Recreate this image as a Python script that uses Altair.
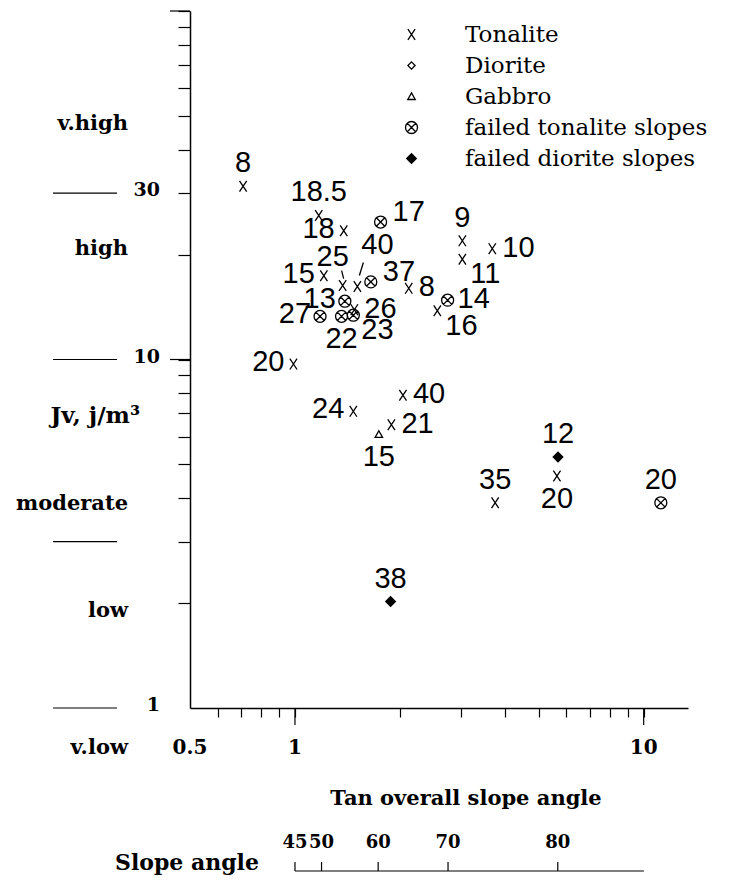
import altair as alt
import pandas as pd

# ---------------- data ----------------
tan_slope = [0.71, 1.17, 1.38, 1.76, 3.02, 3.68, 3.02, 1.21, 1.37, 1.51,
             1.65, 2.12, 1.39, 2.74, 2.56, 1.48, 1.18, 1.36, 1.47, 0.99,
             1.47, 2.04, 1.89, 1.74, 5.68, 5.64, 3.75, 11.2, 1.88]
jv = [31.4, 25.9, 23.4, 24.8, 21.9, 20.8, 19.4, 17.4, 16.3, 16.2,
      16.7, 16.0, 14.7, 14.8, 13.8, 13.9, 13.3, 13.3, 13.4, 9.7,
      7.1, 7.9, 6.5, 6.1, 5.25, 4.63, 3.88, 3.88, 2.02]
rock = ["Tonalite", "Tonalite", "Tonalite", "failed tonalite slopes", "Tonalite",
        "Tonalite", "Tonalite", "Tonalite", "Tonalite", "Tonalite",
        "failed tonalite slopes", "Tonalite", "failed tonalite slopes", "failed tonalite slopes", "Tonalite",
        "Tonalite", "failed tonalite slopes", "failed tonalite slopes", "failed tonalite slopes", "Tonalite",
        "Tonalite", "Tonalite", "Tonalite", "Gabbro", "failed diorite slopes",
        "Tonalite", "Tonalite", "failed tonalite slopes", "failed diorite slopes"]
label = ["8", "18.5", "18", "17", "9", "10", "11", "15", "25", "40",
         "37", "8", "13", "14", "16", "26", "27", "22", "23", "20",
         "24", "40", "21", "15", "12", "20", "35", "20", "38"]
place = ["above", "above", "left", "right-up", "above", "right", "right-down", "left", "lead-left", "lead-right",
         "right-up", "right", "left", "right", "right-down", "right", "left", "below", "right-down", "left",
         "left", "right", "right", "below", "above", "below", "above", "above", "above"]

rock_types = ["Tonalite", "Diorite", "Gabbro", "failed tonalite slopes", "failed diorite slopes"]

y_tick_values = [2, 3, 4, 5, 6, 7, 8, 9, 10, 20, 30, 40, 50, 60, 70, 80, 90, 100]
y_major_ticks = [10, 100]
x_tick_values = [0.6, 0.7, 0.8, 0.9, 1, 2, 3, 4, 5, 6, 7, 8, 9, 10]
x_major_ticks = [1, 10]

y_num_values = [30, 10, 1]
band_bounds = [30, 10, 3, 1]
band_names = ["v.high", "high", "moderate", "low", "v.low"]
band_label_pos = [47.4, 20.8, 3.85, 1.90, 0.77]
y_title_pos = [6.9]

x_label_values = [0.5, 1, 10]
x_label_text = ["0.5", "1", "10"]

slope_angles = [45, 50, 60, 70, 80]
slope_line_angles = [45, 84.3]

# ---------------- styling ----------------
X_PATH = "M-0.6,-0.9L0.6,0.9M-0.6,0.9L0.6,-0.9"
DIAMOND_OPEN = "M0,-0.6L0.6,0L0,0.6L-0.6,0Z"
TRI = "M0,-0.6L0.62,0.5L-0.62,0.5Z"
OTIMES = "M-1,0A1,1,0,1,0,1,0A1,1,0,1,0,-1,0ZM-0.7,-0.7L0.7,0.7M-0.7,0.7L0.7,-0.7"
DIAMOND_FILL = ("M0,-0.8L0.8,0L0,0.8L-0.8,0ZM0,-0.57L0.57,0L0,0.57L-0.57,0Z"
                "M0,-0.34L0.34,0L0,0.34L-0.34,0ZM0,-0.12L0.12,0L0,0.12L-0.12,0Z")
shape_range = [X_PATH, DIAMOND_OPEN, TRI, OTIMES, DIAMOND_FILL]

SERIF = "DejaVu Serif"
SANS = "Liberation Sans"

PLACE = {
    "above": dict(align="center", dx=0, dy=-23),
    "below": dict(align="center", dx=0, dy=23),
    "left": dict(align="right", dx=-9, dy=-2),
    "right": dict(align="left", dx=10, dy=-1),
    "right-up": dict(align="left", dx=12, dy=-10),
    "right-down": dict(align="left", dx=8, dy=15),
    "lead-left": dict(align="center", dx=-10, dy=-29),
    "lead-right": dict(align="center", dx=20, dy=-41),
}
LEADERS = {
    "lead-left": dict(xOffset=-1, yOffset=-15, x2Offset=1, y2Offset=-7),
    "lead-right": dict(xOffset=6, yOffset=-24, x2Offset=2, y2Offset=-11),
}

W, H = 498, 697
xs = alt.Scale(type="log", domain=[0.5, 13.4], nice=False)
ys = alt.Scale(type="log", domain=[1, 100], nice=False)

x_axis = alt.Axis(
    values=x_tick_values, labels=False, title=None, grid=False, domain=True, ticks=True,
    domainColor="black", domainWidth=1.5, tickColor="black", tickWidth=1.2, tickSize=9,
)
y_axis = alt.Axis(
    values=y_tick_values, labels=False, title=None, grid=False, domain=True, ticks=True,
    domainColor="black", domainWidth=1.5, tickColor="black", tickWidth=1.2, tickSize=12,
)


def XF(field):
    return alt.X(field, scale=xs, axis=x_axis)


def YF(field):
    return alt.Y(field, scale=ys, axis=y_axis)


pts = pd.DataFrame({"tan": tan_slope, "jv": jv, "rock": rock, "label": label, "place": place})

leg = alt.Legend(
    orient="none", legendX=210, legendY=12, title=None,
    labelFont=SERIF, labelFontSize=23, labelColor="black", labelLimit=400,
    symbolSize=144, symbolStrokeColor="black", symbolStrokeWidth=1.3,
    symbolFillColor="transparent",
    rowPadding=7, labelOffset=42,
)

points = alt.Chart(pts).mark_point(size=144, stroke="black", strokeWidth=1.3, opacity=1,
                                   filled=False).encode(
    x=XF("tan:Q"),
    y=YF("jv:Q"),
    shape=alt.Shape("rock:N", scale=alt.Scale(domain=rock_types, range=shape_range), legend=leg),
)

layers = [points]

# longer major ticks
layers.append(alt.Chart(pd.DataFrame({"v": y_major_ticks})).mark_rule(color="black", strokeWidth=1.2).encode(
    y=YF("v:Q"), x=alt.value(-20), x2=alt.value(0)))
layers.append(alt.Chart(pd.DataFrame({"v": x_major_ticks})).mark_rule(color="black", strokeWidth=1.2).encode(
    x=XF("v:Q"), y=alt.value(H), y2=alt.value(H + 17)))

for key, opt in PLACE.items():
    layers.append(
        alt.Chart(pts).transform_filter(alt.datum.place == key).mark_text(
            font=SANS, fontSize=29, color="black", baseline="middle", **opt
        ).encode(x=XF("tan:Q"), y=YF("jv:Q"), text="label:N")
    )
for key, off in LEADERS.items():
    layers.append(
        alt.Chart(pts).transform_filter(alt.datum.place == key).mark_rule(
            color="black", strokeWidth=1.3, **off
        ).encode(x=XF("tan:Q"), y=YF("jv:Q"), x2="tan:Q", y2="jv:Q")
    )

# y-axis numbers
ynum = pd.DataFrame({"v": y_num_values, "t": [str(v) for v in y_num_values]})
layers.append(alt.Chart(ynum).mark_text(font=SERIF, fontWeight="bold", fontSize=19, align="right",
                                        baseline="middle", dy=-3, color="black").encode(
    x=alt.value(-30), y=YF("v:Q"), text="t:N"))

# band boundaries and names
bb = pd.DataFrame({"v": band_bounds})
layers.append(alt.Chart(bb).mark_rule(color="black", strokeWidth=1.2).encode(
    x=alt.value(-137), x2=alt.value(-73), y=YF("v:Q")))
bn = pd.DataFrame({"v": band_label_pos, "t": band_names})
layers.append(alt.Chart(bn).mark_text(font=SERIF, fontWeight="bold", fontSize=21, align="right",
                                      baseline="middle", color="black").encode(
    x=alt.value(-62), y=YF("v:Q"), text="t:N"))
yt = pd.DataFrame({"v": y_title_pos, "t": ["Jv, j/m³"]})
layers.append(alt.Chart(yt).mark_text(font=SERIF, fontWeight="bold", fontSize=23, align="right",
                                      baseline="middle", color="black").encode(
    x=alt.value(-50), y=YF("v:Q"), text="t:N"))

# x-axis numbers and title
xl = pd.DataFrame({"v": x_label_values, "t": x_label_text})
layers.append(alt.Chart(xl).mark_text(font=SERIF, fontWeight="bold", fontSize=20, align="center",
                                      baseline="middle", color="black").encode(
    x=XF("v:Q"), y=alt.value(737), text="t:N"))
layers.append(alt.Chart(pd.DataFrame({"t": ["Tan overall slope angle"]})).mark_text(
    font=SERIF, fontWeight="bold", fontSize=21, align="center", baseline="middle", color="black").encode(
    x=alt.value(276), y=alt.value(788), text="t:N"))

# slope-angle scale
sl = pd.DataFrame({"a1": [slope_line_angles[0]], "a2": [slope_line_angles[1]]})
layers.append(alt.Chart(sl).transform_calculate(
    t1="tan(datum.a1*PI/180)", t2="tan(datum.a2*PI/180)").mark_rule(color="black", strokeWidth=1.2).encode(
    x=XF("t1:Q"), x2="t2:Q", y=alt.value(860)))
sa = pd.DataFrame({"angle": slope_angles})
layers.append(alt.Chart(sa).transform_calculate(t="tan(datum.angle*PI/180)").mark_rule(
    color="black", strokeWidth=1.2).encode(
    x=XF("t:Q"), y=alt.value(851), y2=alt.value(860)))
layers.append(alt.Chart(sa).transform_calculate(t="tan(datum.angle*PI/180)").mark_text(
    font=SERIF, fontWeight="bold", fontSize=18, align="center", baseline="middle", color="black").encode(
    x=XF("t:Q"), y=alt.value(832), text="angle:N"))
layers.append(alt.Chart(pd.DataFrame({"t": ["Slope angle"]})).mark_text(
    font=SERIF, fontWeight="bold", fontSize=22, align="center", baseline="middle", color="black").encode(
    x=alt.value(-3), y=alt.value(852), text="t:N"))

chart = alt.layer(*layers).properties(
    width=W, height=H,
    autosize=alt.AutoSizeParams(type="none"),
    padding={"left": 182, "top": 3, "right": 33, "bottom": 168},
).configure_view(stroke=None).configure_axis(domain=True, ticks=True)

chart.save("out.html", embed_options={"renderer": "svg", "actions": False})
